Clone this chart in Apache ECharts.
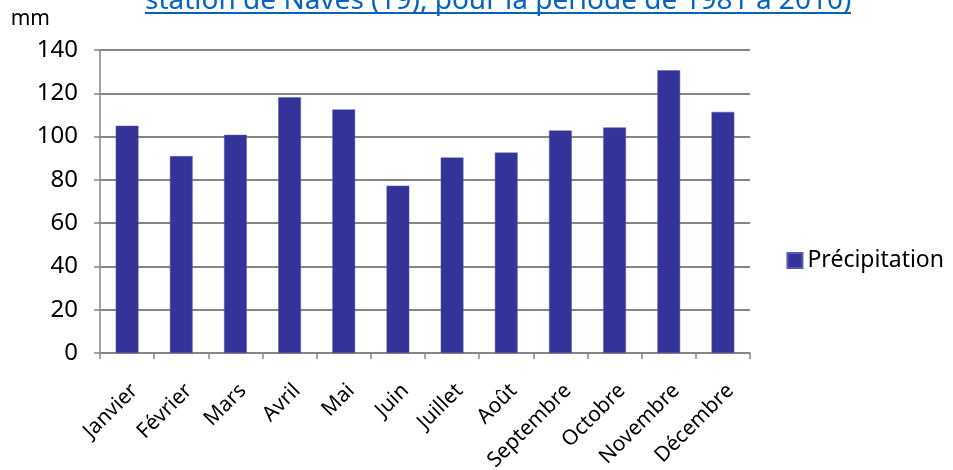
<!DOCTYPE html>
<html>
<head>
<meta charset="utf-8">
<script src="https://cdn.jsdelivr.net/npm/echarts@6/dist/echarts.min.js"></script>
<style>
  html, body { margin: 0; padding: 0; background: #fff; }
  #chart { width: 953px; height: 470px; }
</style>
</head>
<body>
<div id="chart"></div>
<script>
// mois
const months = ['Janvier', 'Février', 'Mars', 'Avril', 'Mai', 'Juin',
  'Juillet', 'Août', 'Septembre', 'Octobre', 'Novembre', 'Décembre']
// précipitations moyennes (mm)
const precipitation = [105.0, 91.0, 100.8, 118.2, 112.5, 77.3, 90.3, 92.6, 102.8, 104.2, 130.6, 111.4]
const titleText = 'station de Naves (19), pour la période de 1981 à 2010)'

const font = 'Noto Sans'
const grey = '#868686'

const chart = echarts.init(document.getElementById('chart'))
chart.setOption({
  animation: false,
  textStyle: { fontFamily: font },
  graphic: [
    {
      type: 'text',
      left: 145,
      top: -13,
      style: { text: titleText, fill: '#0563C1', font: '28px "Noto Sans"' }
    },
    {
      type: 'rect',
      left: 145,
      top: 12,
      shape: { width: 706, height: 2 },
      style: { fill: '#0563C1' }
    }
  ],
  grid: {
    left: 100,
    right: 203,
    top: 50,
    bottom: 117,
    outerBoundsMode: 'none'
  },
  legend: {
    data: ['Précipitation'],
    right: 4,
    top: 244,
    icon: 'rect',
    itemWidth: 15,
    itemHeight: 15,
    itemGap: 7,
    textStyle: { fontSize: 23, color: '#000', fontFamily: font }
  },
  xAxis: {
    type: 'category',
    data: months,
    axisLine: { lineStyle: { color: grey, width: 1.5 } },
    axisTick: { show: true, length: 6, lineStyle: { color: grey, width: 1.5 } },
    axisLabel: {
      interval: 0,
      rotate: 45,
      margin: 27,
      verticalAlign: 'top',
      color: '#000',
      fontSize: 21,
      fontFamily: font
    }
  },
  yAxis: {
    type: 'value',
    min: 0,
    max: 140,
    interval: 20,
    name: 'mm',
    nameLocation: 'end',
    nameGap: 20,
    nameTextStyle: { color: '#000', fontSize: 21, fontFamily: font, align: 'right', padding: [0, 50, 0, 0] },
    axisLine: { show: true, lineStyle: { color: grey, width: 1.5 } },
    axisTick: { show: true, length: 6, lineStyle: { color: grey, width: 1.5 } },
    axisLabel: { color: '#000', fontSize: 24, margin: 22, fontFamily: font },
    splitLine: { lineStyle: { color: grey, width: 2 } }
  },
  series: [
    {
      name: 'Précipitation',
      type: 'bar',
      data: precipitation,
      barCategoryGap: '58%',
      itemStyle: { color: '#333399', borderColor: '#5a5ab0', borderWidth: 0.5 }
    }
  ]
})
</script>
</body>
</html>
